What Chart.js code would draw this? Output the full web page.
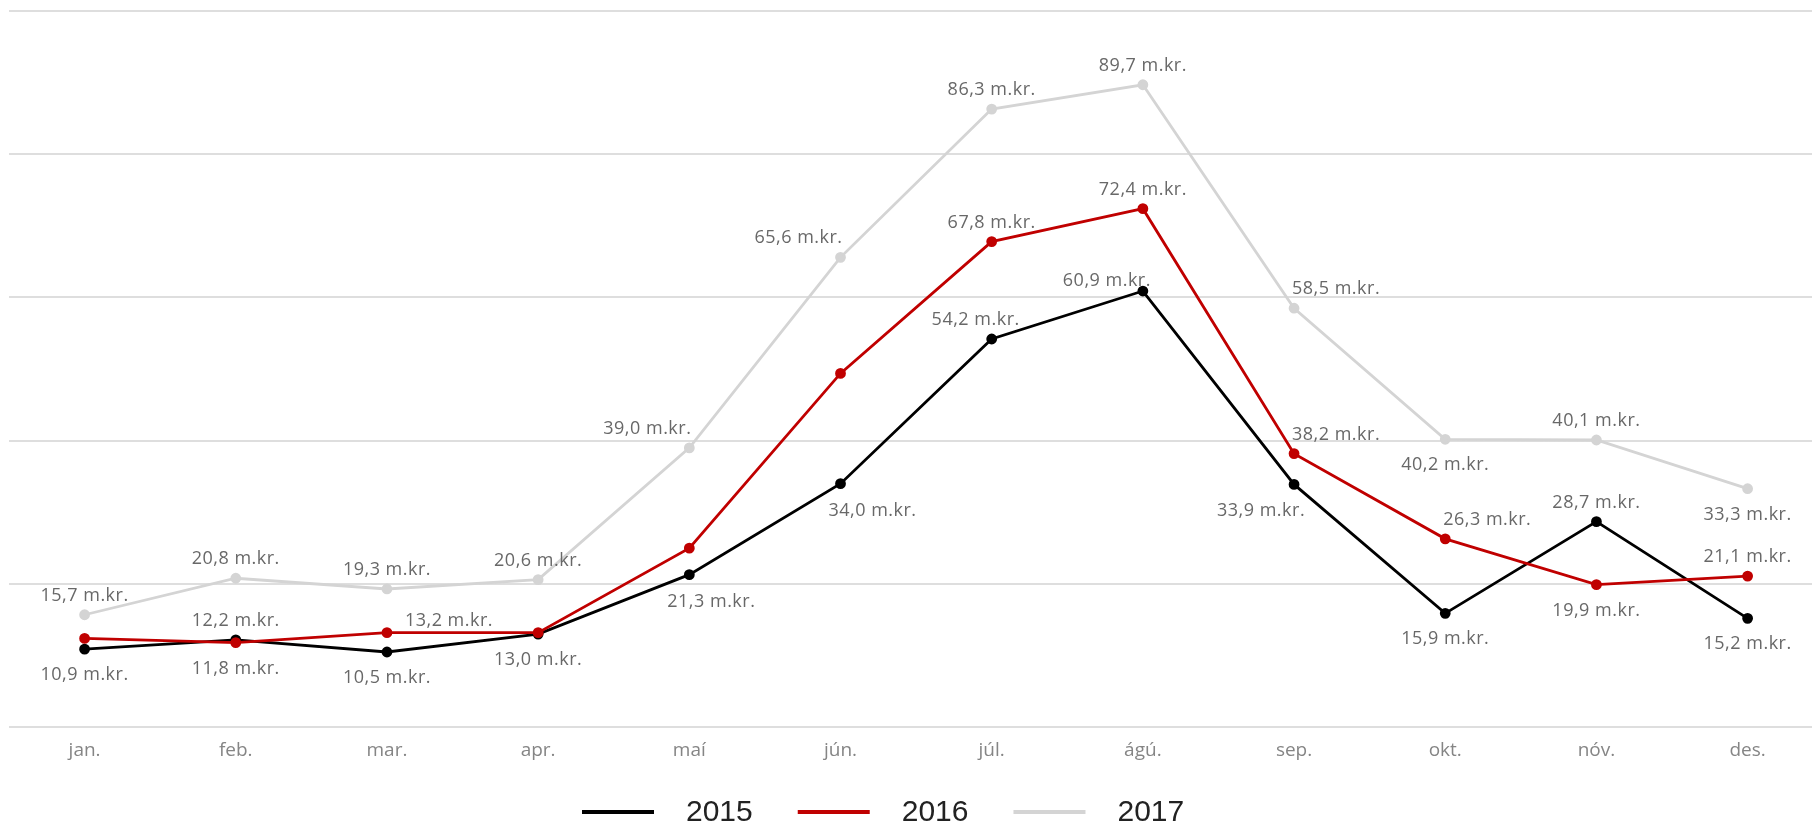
<!DOCTYPE html>
<html><head><meta charset="utf-8">
<script src="https://cdn.jsdelivr.net/npm/chart.js@4.4.0/dist/chart.umd.min.js"></script>
<style>
html,body{margin:0;padding:0;background:#fff;overflow:hidden;}
#wrap{position:relative;width:1830px;height:825px;}
</style></head><body>
<div id="wrap"><canvas id="c"></canvas></div>
<script>
// ---- data ----
const months = ['jan.','feb.','mar.','apr.','maí','jún.','júl.','ágú.','sep.','okt.','nóv.','des.'];
const seriesNames = ['2015','2016','2017'];
const values2015 = [10.9,12.2,10.5,13.0,21.3,34.0,54.2,60.9,33.9,15.9,28.7,15.2];
const values2016 = [12.4,11.8,13.2,13.2,25.0,49.4,67.8,72.4,38.2,26.3,19.9,21.1];
const values2017 = [15.7,20.8,19.3,20.6,39.0,65.6,86.3,89.7,58.5,40.2,40.1,33.3];
const yTicks = [0,20,40,60,80,100];
const unitSuffix = ' m.kr.';

// ---- styles ----
const colors = ['#000000','#c00000','#d4d4d4'];
const LABEL_FONT = '"Open Sans","Noto Sans",sans-serif';
const LEGEND_FONT = '"Liberation Sans",Arial,sans-serif';
// label placement codes per point (n = no label)
const place2015 = ['b','a','b','b','br1','br2','al1','al2','bl','b','a','b'];
const place2016 = ['n','b','ar2','n','n','n','a','a','ar','ar','b','a'];
const place2017 = ['a','a','a','a','al','al','a','a','ar','b','a','b'];
const placeOffsets = {
  a:[0,-19], b:[0,26], al:[-42,-19], ar:[42,-19], bl:[-33,26],
  br1:[22,27], br2:[32,27],
  al1:[-16,-19], al2:[-36,-10], ar2:[62,-12]
};
const places = [place2015, place2016, place2017];

const fmt = v => v.toFixed(1).replace('.', ',') + unitSuffix;

const labelPlugin = {
  id: 'pointLabels',
  afterDatasetsDraw(chart) {
    const ctx = chart.ctx;
    ctx.save();
    ctx.font = '18px ' + LABEL_FONT;
    if ('letterSpacing' in ctx) ctx.letterSpacing = '0.5px';
    ctx.fillStyle = '#686868';
    ctx.textAlign = 'center';
    ctx.textBaseline = 'middle';
    chart.data.datasets.forEach((ds, i) => {
      const meta = chart.getDatasetMeta(i);
      meta.data.forEach((pt, j) => {
        const code = places[i][j];
        if (code === 'n') return;
        const off = placeOffsets[code];
        ctx.fillText(fmt(ds.data[j]), pt.x + off[0], pt.y + off[1]);
      });
    });
    ctx.restore();
  }
};

const legendPlugin = {
  id: 'bottomLegend',
  afterDraw(chart) {
    const ctx = chart.ctx;
    ctx.save();
    const y = 812;
    let x = 582;
    ctx.font = '30px ' + LEGEND_FONT;
    ctx.textBaseline = 'middle';
    ctx.textAlign = 'left';
    chart.data.datasets.forEach(ds => {
      ctx.strokeStyle = ds.borderColor;
      ctx.lineWidth = 4;
      ctx.beginPath();
      ctx.moveTo(x, y);
      ctx.lineTo(x + 72, y);
      ctx.stroke();
      ctx.fillStyle = '#222';
      ctx.fillText(ds.label, x + 104, y + 1);
      x += 72 + 32 + ctx.measureText(ds.label).width + 45;
    });
    ctx.restore();
  }
};

const seriesValues = [values2015, values2016, values2017];
const drawOrder = [2, 1, 3];

new Chart(document.getElementById('c'), {
  type: 'line',
  data: {
    labels: months,
    datasets: seriesNames.map((name, i) => ({
      label: name,
      data: seriesValues[i],
      borderColor: colors[i],
      backgroundColor: colors[i],
      pointBackgroundColor: colors[i],
      pointBorderColor: colors[i],
      borderWidth: 2.8,
      pointRadius: 4,
      pointHoverRadius: 4,
      tension: 0,
      order: drawOrder[i]
    }))
  },
  options: {
    responsive: true,
    maintainAspectRatio: false,
    animation: false,
    devicePixelRatio: 1,
    layout: { padding: { top: 11, left: 9, right: 4, bottom: 51 } },
    plugins: { legend: { display: false }, tooltip: { enabled: false } },
    scales: {
      x: {
        offset: true,
        grid: { display: false, drawTicks: false },
        border: { display: false },
        ticks: { color: '#858585', padding: 12, font: { size: 19, family: LABEL_FONT } }
      },
      y: {
        min: yTicks[0],
        max: yTicks[yTicks.length - 1],
        afterBuildTicks: axis => { axis.ticks = yTicks.map(v => ({ value: v })); },
        grid: { color: '#dedede', lineWidth: 2, drawTicks: false },
        border: { display: false },
        ticks: { display: false }
      }
    }
  },
  plugins: [labelPlugin, legendPlugin]
});
</script>
</body></html>
